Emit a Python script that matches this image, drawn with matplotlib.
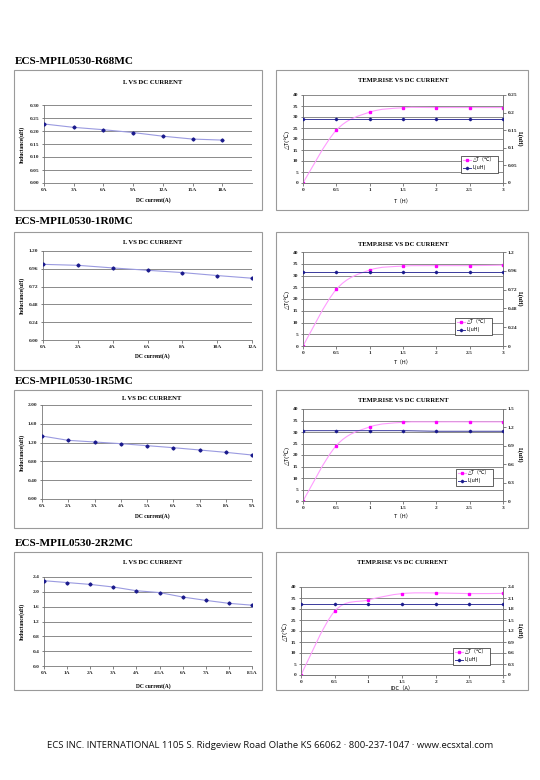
import numpy as np
import matplotlib.pyplot as plt
from matplotlib.patches import Rectangle, PathPatch
from matplotlib.path import Path
from matplotlib.lines import Line2D

W, H = 540, 780

SERIF = ['Liberation Serif', 'Noto Sans CJK SC', 'DejaVu Sans']
CJK = ['Noto Sans CJK SC', 'DejaVu Sans']
TRI = ['DejaVu Sans', 'Noto Sans CJK SC']

# ---------------- data ----------------
PARTS = ["ECS-MPIL0530-R68MC", "ECS-MPIL0530-1R0MC",
         "ECS-MPIL0530-1R5MC", "ECS-MPIL0530-2R2MC"]

# L vs DC current
cur_r68 = ["0A", "3A", "6A", "9A", "12A", "15A", "18A"]
ind_r68 = [0.227, 0.214, 0.205, 0.194, 0.180, 0.169, 0.165]
cur_1r0 = ["0A", "2A", "4A", "6A", "8A", "10A", "12A"]
ind_1r0 = [1.020, 1.007, 0.972, 0.940, 0.909, 0.869, 0.833]
cur_1r5 = ["0A", "2A", "3A", "4A", "5A", "6A", "7A", "8A", "9A"]
ind_1r5 = [1.340, 1.248, 1.213, 1.177, 1.135, 1.092, 1.043, 0.993, 0.936]
cur_2r2 = ["0A", "1A", "2A", "3A", "4A", "4.5A", "6A", "7A", "8A", "8.5A"]
ind_2r2 = [2.30, 2.25, 2.20, 2.13, 2.03, 1.98, 1.86, 1.77, 1.69, 1.64]

# temp rise vs time
hours = [0, 0.5, 1, 1.5, 2, 2.5, 3]
dt_r68 = [0, 24.0, 32.2, 34.2, 34.3, 34.3, 34.3]
lh_r68 = [0.181, 0.181, 0.181, 0.181, 0.181, 0.181, 0.181]
dt_1r0 = [0, 24.1, 32.3, 34.0, 34.2, 34.2, 34.4]
lh_1r0 = [0.940, 0.940, 0.940, 0.940, 0.940, 0.940, 0.940]
dt_1r5 = [0, 24.1, 32.2, 34.2, 34.4, 34.4, 34.4]
lh_1r5 = [1.147, 1.147, 1.147, 1.147, 1.137, 1.137, 1.137]
dt_2r2 = [0, 29.0, 34.1, 37.0, 37.3, 37.0, 37.1]
lh_2r2 = [1.944, 1.944, 1.944, 1.944, 1.944, 1.944, 1.944]

# y ticks
yt_r68 = [0.00, 0.05, 0.10, 0.15, 0.20, 0.25, 0.30]
yt_1r0 = [0.00, 0.24, 0.48, 0.72, 0.96, 1.20]
yt_1r5 = [0.00, 0.40, 0.80, 1.20, 1.60, 2.00]
yt_2r2 = [0.0, 0.4, 0.8, 1.2, 1.6, 2.0, 2.4]
dt_ticks = [0, 5, 10, 15, 20, 25, 30, 35, 40]
rt_r68 = [0, 0.05, 0.1, 0.15, 0.2, 0.25]
rt_1r0 = [0, 0.24, 0.48, 0.72, 0.96, 1.2]
rt_1r5 = [0, 0.3, 0.6, 0.9, 1.2, 1.5]
rt_2r2 = [0, 0.3, 0.6, 0.9, 1.2, 1.5, 1.8, 2.1, 2.4]

fig = plt.figure(figsize=(W / 100, H / 100), dpi=100)


def px_axes(x0, y0, x1, y1):
    return fig.add_axes([x0 / W, 1 - y1 / H, (x1 - x0) / W, (y1 - y0) / H])


def ftext(x, y, s, **kw):
    kw.setdefault('family', SERIF)
    fig.text(x / W, 1 - y / H, s, **kw)


def box(x0, y0, x1, y1):
    fig.add_artist(Rectangle((x0 / W, 1 - y1 / H), (x1 - x0) / W, (y1 - y0) / H,
                             transform=fig.transFigure, fill=False,
                             ec='#9a9a9a', lw=0.8))


def style_ticks(ax, **kw):
    ax.tick_params(labelsize=3.9, length=1.8, width=0.4, pad=1.5,
                   colors='#222222', **kw)
    for lab in ax.get_xticklabels() + ax.get_yticklabels():
        lab.set_fontfamily(SERIF)
        lab.set_fontweight('bold')


def smooth_path(x, y):
    # Excel style smoothed line (Catmull-Rom as cubic Bezier)
    pts = np.column_stack([x, y]).astype(float)
    n = len(pts)
    verts, codes = [pts[0]], [Path.MOVETO]
    for i in range(n - 1):
        p0, p1 = pts[max(i - 1, 0)], pts[i]
        p2, p3 = pts[i + 1], pts[min(i + 2, n - 1)]
        verts += [p1 + (p2 - p0) / 6, p2 - (p3 - p1) / 6, p2]
        codes += [Path.CURVE4] * 3
    return Path(verts, codes)


def l_chart(rect, cats, vals, yticks, fmt, xmax, title_y, xlab_y, ylab_x):
    ax = px_axes(*rect)
    x = np.arange(len(cats))
    ax.plot(x, vals, color='#9a9ae0', lw=0.8, marker='D', ms=1.6,
            mfc='#1a1a8c', mec='#1a1a8c', zorder=3)
    ax.set_xlim(0, xmax)
    ax.set_ylim(yticks[0], yticks[-1])
    ax.set_yticks(yticks)
    ax.set_yticklabels([fmt % v for v in yticks])
    ax.set_xticks(x)
    ax.set_xticklabels(cats)
    ax.yaxis.grid(True, color='#777777', lw=0.6)
    ax.set_axisbelow(True)
    for s in ['top', 'right']:
        ax.spines[s].set_visible(False)
    for s in ['left', 'bottom']:
        ax.spines[s].set_color('#777777')
        ax.spines[s].set_linewidth(0.6)
    style_ticks(ax)
    cx = (rect[0] + rect[2]) / 2 + 5
    ftext(cx, title_y, "L VS DC CURRENT", fontsize=4.8, weight='bold',
          ha='center', va='center')
    ftext(cx, xlab_y, "DC current(A)", fontsize=4.0, weight='bold',
          ha='center', va='center')
    ftext(ylab_x, (rect[1] + rect[3]) / 2, "Inductance(uH)", fontsize=4.0,
          weight='bold', ha='center', va='center', rotation=90)
    return ax


def t_chart(rect, dts, lhs, rticks, xlabel, title_y, xlab_y, leg_xy):
    ax = px_axes(*rect)
    ax2 = ax.twinx()
    ax.add_patch(PathPatch(smooth_path(hours, dts), fill=False,
                           ec='#ff9cff', lw=0.8, zorder=3))
    ax.plot(hours, dts, ls='none', marker='s', ms=2.0, mfc='#ff00ff',
            mec='#ff00ff', zorder=4)
    ax2.plot(hours, lhs, color='#3a3a9c', lw=0.7, marker='D', ms=1.3,
             mfc='#1a1a8c', mec='#1a1a8c', zorder=3)
    ax.set_xlim(0, 3)
    ax.set_ylim(0, 40)
    ax.set_yticks(dt_ticks)
    ax.set_xticks(hours)
    ax.set_xticklabels(["%g" % h for h in hours])
    ax2.set_ylim(rticks[0], rticks[-1])
    ax2.set_yticks(rticks)
    ax2.set_yticklabels(["%g" % v for v in rticks])
    ax.yaxis.grid(True, color='#777777', lw=0.6)
    ax.set_axisbelow(True)
    for a in (ax, ax2):
        a.spines['top'].set_visible(False)
        for s in ['left', 'right', 'bottom']:
            a.spines[s].set_color('#777777')
            a.spines[s].set_linewidth(0.6)
    style_ticks(ax)
    style_ticks(ax2)
    cx = (rect[0] + rect[2]) / 2
    ftext(cx, title_y, "TEMP.RISE VS DC CURRENT", fontsize=4.8, weight='bold',
          ha='center', va='center')
    ftext(cx, xlab_y, xlabel, fontsize=4.0, ha='center', va='center',
          family=CJK)
    ftext(rect[0] - 16, (rect[1] + rect[3]) / 2, "△T(℃)", fontsize=4.2,
          ha='center', va='center', rotation=90, family=TRI)
    ftext(rect[2] + 17, (rect[1] + rect[3]) / 2, "L(uH)", fontsize=4.2,
          weight='bold', ha='center', va='center', rotation=270)
    handles = [Line2D([], [], color='#ff9cff', lw=0.8, marker='s', ms=2.0,
                      mfc='#ff00ff', mec='#ff00ff'),
               Line2D([], [], color='#3a3a9c', lw=0.7, marker='D', ms=1.3,
                      mfc='#1a1a8c', mec='#1a1a8c')]
    leg = ax2.legend(handles, ["△T（℃）", "L(uH)"], loc='upper left',
                     bbox_to_anchor=(leg_xy[0] / W, 1 - leg_xy[1] / H),
                     bbox_transform=fig.transFigure, frameon=True,
                     fancybox=False, framealpha=1, edgecolor='#222222',
                     prop={'family': TRI, 'size': 3.6}, handlelength=1.6,
                     borderpad=0.45, labelspacing=0.5, handletextpad=0.4)
    leg.get_frame().set_linewidth(0.5)
    return ax


# boxes and headings
box_rows = [(70, 210), (232, 370), (390, 528), (552, 690)]
head_y = [62, 222, 381, 543]
for (y0, y1), hy, name in zip(box_rows, head_y, PARTS):
    box(14, y0, 262, y1)
    box(276, y0, 528, y1)
    ftext(15, hy, name, fontsize=8.1, weight='bold', ha='left', va='center')

# L vs DC current charts
l_chart((44, 105, 252, 183), cur_r68, ind_r68, yt_r68, "%.2f", 7, 82, 200, 22)
l_chart((43, 251, 252, 340), cur_1r0, ind_1r0, yt_1r0, "%.2f", 6, 242, 356, 22)
l_chart((42, 405, 252, 499), cur_1r5, ind_1r5, yt_1r5, "%.2f", 8, 399, 516, 22)
l_chart((44, 577, 252, 666), cur_2r2, ind_2r2, yt_2r2, "%.1f", 9, 563, 686, 22)

# temp rise charts
t_chart((303, 95, 503, 183), dt_r68, lh_r68, rt_r68, "T（H）", 81, 202, (458, 153))
t_chart((303, 252, 503, 346), dt_1r0, lh_1r0, rt_1r0, "T（H）", 244, 363, (452, 315))
t_chart((303, 409, 503, 501), dt_1r5, lh_1r5, rt_1r5, "T（H）", 401, 517, (453, 466))
t_chart((301, 587, 503, 675), dt_2r2, lh_2r2, rt_2r2, "IDC（A）", 563, 689, (450, 645))

# footer
fig.text(270 / W, 1 - 746 / H,
         "ECS INC. INTERNATIONAL 1105 S. Ridgeview Road Olathe KS 66062 · "
         "800-237-1047 · www.ecsxtal.com",
         family=['Open Sans', 'DejaVu Sans'], fontsize=6.8, ha='center',
         va='center', color='#111111')

fig.savefig("out.png", dpi=100, facecolor='white')
